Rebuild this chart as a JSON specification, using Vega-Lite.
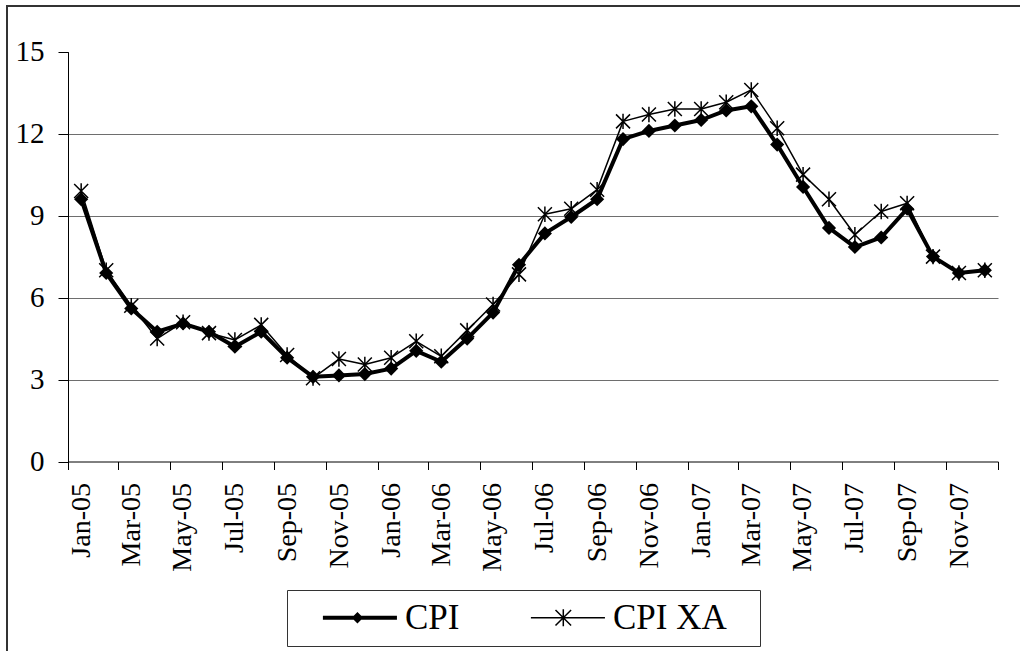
{
  "$schema": "https://vega.github.io/schema/vega-lite/v6.json",
  "width": 1013,
  "height": 645,
  "autosize": {"type": "none"},
  "padding": {"left": 7, "top": 6, "right": 0, "bottom": 0},
  "background": "white",
  "config": {
    "view": {"stroke": "#333333", "strokeWidth": 2, "strokeDash": [1013, 1658, 645]},
    "font": "Liberation Serif"
  },
  "data": {
    "values": [
      {"month": "2005-01", "series": "CPI", "value": 9.6},
      {"month": "2005-02", "series": "CPI", "value": 6.9},
      {"month": "2005-03", "series": "CPI", "value": 5.6},
      {"month": "2005-04", "series": "CPI", "value": 4.75},
      {"month": "2005-05", "series": "CPI", "value": 5.05},
      {"month": "2005-06", "series": "CPI", "value": 4.75},
      {"month": "2005-07", "series": "CPI", "value": 4.2},
      {"month": "2005-08", "series": "CPI", "value": 4.75},
      {"month": "2005-09", "series": "CPI", "value": 3.8},
      {"month": "2005-10", "series": "CPI", "value": 3.1},
      {"month": "2005-11", "series": "CPI", "value": 3.15},
      {"month": "2005-12", "series": "CPI", "value": 3.2},
      {"month": "2006-01", "series": "CPI", "value": 3.4},
      {"month": "2006-02", "series": "CPI", "value": 4.05},
      {"month": "2006-03", "series": "CPI", "value": 3.65},
      {"month": "2006-04", "series": "CPI", "value": 4.5},
      {"month": "2006-05", "series": "CPI", "value": 5.45},
      {"month": "2006-06", "series": "CPI", "value": 7.2},
      {"month": "2006-07", "series": "CPI", "value": 8.35},
      {"month": "2006-08", "series": "CPI", "value": 8.95},
      {"month": "2006-09", "series": "CPI", "value": 9.6},
      {"month": "2006-10", "series": "CPI", "value": 11.8},
      {"month": "2006-11", "series": "CPI", "value": 12.1},
      {"month": "2006-12", "series": "CPI", "value": 12.3},
      {"month": "2007-01", "series": "CPI", "value": 12.5},
      {"month": "2007-02", "series": "CPI", "value": 12.85},
      {"month": "2007-03", "series": "CPI", "value": 13.0},
      {"month": "2007-04", "series": "CPI", "value": 11.6},
      {"month": "2007-05", "series": "CPI", "value": 10.05},
      {"month": "2007-06", "series": "CPI", "value": 8.55},
      {"month": "2007-07", "series": "CPI", "value": 7.85},
      {"month": "2007-08", "series": "CPI", "value": 8.2},
      {"month": "2007-09", "series": "CPI", "value": 9.25},
      {"month": "2007-10", "series": "CPI", "value": 7.5},
      {"month": "2007-11", "series": "CPI", "value": 6.9},
      {"month": "2007-12", "series": "CPI", "value": 7.0},
      {"month": "2005-01", "series": "CPI XA", "value": 9.9},
      {"month": "2005-02", "series": "CPI XA", "value": 7.0},
      {"month": "2005-03", "series": "CPI XA", "value": 5.7},
      {"month": "2005-04", "series": "CPI XA", "value": 4.5},
      {"month": "2005-05", "series": "CPI XA", "value": 5.1},
      {"month": "2005-06", "series": "CPI XA", "value": 4.7},
      {"month": "2005-07", "series": "CPI XA", "value": 4.45},
      {"month": "2005-08", "series": "CPI XA", "value": 5.0},
      {"month": "2005-09", "series": "CPI XA", "value": 3.9},
      {"month": "2005-10", "series": "CPI XA", "value": 3.05},
      {"month": "2005-11", "series": "CPI XA", "value": 3.75},
      {"month": "2005-12", "series": "CPI XA", "value": 3.55},
      {"month": "2006-01", "series": "CPI XA", "value": 3.8},
      {"month": "2006-02", "series": "CPI XA", "value": 4.4},
      {"month": "2006-03", "series": "CPI XA", "value": 3.85},
      {"month": "2006-04", "series": "CPI XA", "value": 4.8},
      {"month": "2006-05", "series": "CPI XA", "value": 5.75},
      {"month": "2006-06", "series": "CPI XA", "value": 6.85},
      {"month": "2006-07", "series": "CPI XA", "value": 9.05},
      {"month": "2006-08", "series": "CPI XA", "value": 9.25},
      {"month": "2006-09", "series": "CPI XA", "value": 9.95},
      {"month": "2006-10", "series": "CPI XA", "value": 12.45},
      {"month": "2006-11", "series": "CPI XA", "value": 12.7},
      {"month": "2006-12", "series": "CPI XA", "value": 12.9},
      {"month": "2007-01", "series": "CPI XA", "value": 12.9},
      {"month": "2007-02", "series": "CPI XA", "value": 13.15},
      {"month": "2007-03", "series": "CPI XA", "value": 13.6},
      {"month": "2007-04", "series": "CPI XA", "value": 12.2},
      {"month": "2007-05", "series": "CPI XA", "value": 10.5},
      {"month": "2007-06", "series": "CPI XA", "value": 9.6},
      {"month": "2007-07", "series": "CPI XA", "value": 8.3},
      {"month": "2007-08", "series": "CPI XA", "value": 9.15},
      {"month": "2007-09", "series": "CPI XA", "value": 9.45},
      {"month": "2007-10", "series": "CPI XA", "value": 7.5},
      {"month": "2007-11", "series": "CPI XA", "value": 6.9},
      {"month": "2007-12", "series": "CPI XA", "value": 7.0}
    ]
  },
  "encoding": {
    "x": {
      "field": "month",
      "type": "temporal",
      "timeUnit": "utcyearmonth",
      "bandPosition": 0.5,
      "scale": {
        "type": "utc",
        "nice": false,
        "domain": [
          {"year": 2005, "month": 1, "date": 1, "utc": true},
          {"year": 2008, "month": 1, "date": 1, "utc": true}
        ],
        "range": [61, 991]
      },
      "axis": {
        "title": null,
        "orient": "bottom",
        "offset": -189.5,
        "tickCount": {"interval": "month", "step": 2},
        "grid": false,
        "domainColor": "black",
        "domainWidth": 1,
        "tickColor": "black",
        "tickWidth": 1,
        "tickSize": 8,
        "labelAngle": -90,
        "labelOffset": 13,
        "labelPadding": 13,
        "labelFont": "Liberation Serif",
        "labelFontSize": 28,
        "labelColor": "black",
        "labelOverlap": false,
        "labelFlush": false,
        "labelBound": false,
        "labelExpr": "utcyear(datum.value) >= 2008 ? '' : utcFormat(datum.value, '%b-%y')"
      }
    },
    "y": {
      "field": "value",
      "type": "quantitative",
      "scale": {"domain": [0, 15], "nice": false, "zero": true, "range": [455.5, 45.7]},
      "axis": {
        "title": null,
        "orient": "left",
        "offset": -61,
        "values": [0, 3, 6, 9, 12, 15],
        "grid": true,
        "gridColor": "#6e6e6e",
        "gridWidth": 1,
        "gridOpacity": {"condition": {"test": "datum.value >= 15 || datum.value <= 0", "value": 0}, "value": 1},
        "domainColor": "black",
        "domainWidth": 1,
        "tickColor": "black",
        "tickWidth": 1,
        "tickSize": 10,
        "labelPadding": 14,
        "labelFont": "Liberation Serif",
        "labelFontSize": 29,
        "labelColor": "black"
      }
    }
  },
  "layer": [
    {
      "mark": {"type": "point", "filled": true, "color": "black", "fill": "black", "strokeWidth": 0, "opacity": 0},
      "encoding": {
        "shape": {
          "field": "series",
          "type": "nominal",
          "scale": {
            "domain": ["CPI", "CPI XA"],
            "range": [
              "M-1,0M0.7,-0.167L6.87,-0.167L6.87,0.167L0.7,0.167ZM3.58,-0.48L4.06,0L3.58,0.48L3.1,0Z",
              "M-1,0M0.7,-0.0625L6.87,-0.0625L6.87,0.0625L0.7,0.0625ZM2.706,-0.606L2.794,-0.694L4.094,0.606L4.006,0.694ZM2.794,0.694L2.706,0.606L4.006,-0.694L4.094,-0.606ZM3.3375,-0.7L3.4625,-0.7L3.4625,0.7L3.3375,0.7ZM18.9,0"
            ]
          },
          "legend": {
            "title": null,
            "orient": "none",
            "direction": "horizontal",
            "legendX": 280,
            "legendY": 584,
            "padding": 10,
            "strokeColor": "#333333",
            "fillColor": "white",
            "symbolSize": 576,
            "symbolOpacity": 1,
            "symbolFillColor": "black",
            "symbolStrokeWidth": 0,
            "labelFont": "Liberation Serif",
            "labelFontSize": 35,
            "labelColor": "black",
            "labelOffset": 73,
            "columnPadding": 45,
            "labelLimit": 400,
            "zindex": 2
          }
        }
      }
    },
    {
      "mark": {"type": "line", "color": "black", "strokeJoin": "round", "strokeCap": "round"},
      "encoding": {
        "detail": {"field": "series", "type": "nominal"},
        "strokeWidth": {"condition": {"test": "datum.series === 'CPI'", "value": 4}, "value": 1.5}
      }
    },
    {
      "transform": [{"filter": "datum.series === 'CPI'"}],
      "mark": {"type": "point", "shape": "diamond", "filled": true, "color": "black", "size": 200, "opacity": 1}
    },
    {
      "transform": [{"filter": "datum.series === 'CPI XA'"}],
      "mark": {"type": "point", "shape": "M-1,-1L1,1M-1,1L1,-1M0,-1.1L0,1.1", "filled": false, "stroke": "black", "strokeWidth": 1.5, "size": 196, "opacity": 1}
    }
  ]
}
